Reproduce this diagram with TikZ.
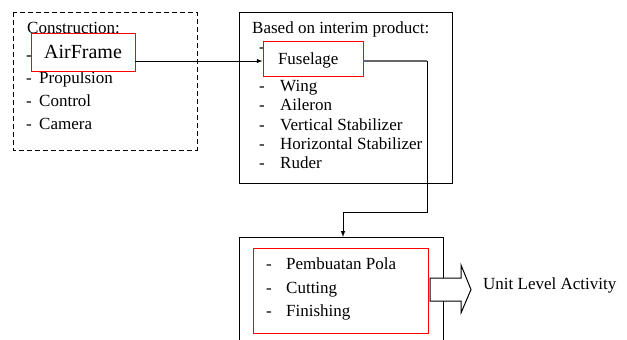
\documentclass[tikz,border=0pt]{standalone}
\usepackage{fontspec}
\setmainfont{Liberation Serif}
\usetikzlibrary{positioning}
\tikzset{
  redbox/.style={draw=red, fill=white, line width=0.9pt},
  item/.style={anchor=base west, inner sep=0pt},
  frame/.style={line width=1pt},
}
\begin{document}
\begin{tikzpicture}[x=1pt,y=-1pt,font=\fontsize{17pt}{19pt}\selectfont]
  \useasboundingbox (0,0) rectangle (627,340);
  % construction
  \draw[frame,dash pattern=on 5pt off 3pt] (13,12) rectangle (197,150);
  \node[item] (constr) at (27,33) {Construction:};
  \node[item] (dash0) at (26,60) {-};
  \node[item] (dash1) at (26,83) {-};
  \node[item] (prop) at (39,83) {Propulsion};
  \node[item] (dash2) at (26,106) {-};
  \node[item] (ctrl) at (39,106) {Control};
  \node[item] (dash3) at (26,129) {-};
  \node[item] (cam) at (39,129) {Camera};
  \node[redbox, minimum width=104pt, minimum height=38pt,
        font=\fontsize{20pt}{22pt}\selectfont] (airframe) at (83,52) {AirFrame};
  % interim product
  \draw[frame] (239,12) rectangle (452,183);
  \node[item] (based) at (252,33) {Based on interim product:};
  \node[item] (dashf) at (259,52) {-};
  \node[item] (dashw) at (259,91) {-};
  \node[item] (wing) at (280,91) {Wing};
  \node[item] (dasha) at (259,110.5) {-};
  \node[item] (ail) at (280,110.5) {Aileron};
  \node[item] (dashv) at (259,130) {-};
  \node[item] (vstab) at (280,130) {Vertical Stabilizer};
  \node[item] (dashh) at (259,149) {-};
  \node[item] (hstab) at (280,149) {Horizontal Stabilizer};
  \node[item] (dashr) at (259,168.5) {-};
  \node[item] (ruder) at (280,168.5) {Ruder};
  \node[redbox, minimum height=35pt, text width=70pt, align=left,
        inner xsep=15pt, text depth=0pt] (fuselage) at (313,58.5) {Fuselage};
  % links
  \coordinate (link) at ([yshift=-2.5pt]fuselage.west);
  \draw[->,>=latex,frame] (airframe.east |- link) -- (link);
  \coordinate (turn1) at (427,61);
  \coordinate (turn2) at (427,212);
  \coordinate (turn3) at (343,212);
  \coordinate (procTop) at (343,237);
  \draw[gray!80!black,line width=2pt] ([yshift=-2.5pt]fuselage.east) -- (turn1);
  \draw[->,>=latex,frame] (turn1) -- (turn2) -- (turn3) -- (procTop);
  % process
  \draw[frame] (239,350) -- (239,237) -- (443,237) -- (443,350);
  \node[redbox, minimum width=175pt, minimum height=85pt, inner sep=0pt] (steps) at (340.5,290.5) {};
  \node[item] (dashp) at (266,269.5) {-};
  \node[item] (pola) at (286,269.5) {Pembuatan Pola};
  \node[item] (dashc) at (266,293) {-};
  \node[item] (cut) at (286,293) {Cutting};
  \node[item] (dashs) at (266,316.5) {-};
  \node[item] (fin) at (286,316.5) {Finishing};
  \draw[frame,fill=white] (430,278) -- (461,278) -- (461,265) -- (471,289.5)
    -- (461,313) -- (461,301) -- (430,301) -- cycle;
  \node[item] (unit) at (483,289.5) {Unit Level Activity};
\end{tikzpicture}
\end{document}
